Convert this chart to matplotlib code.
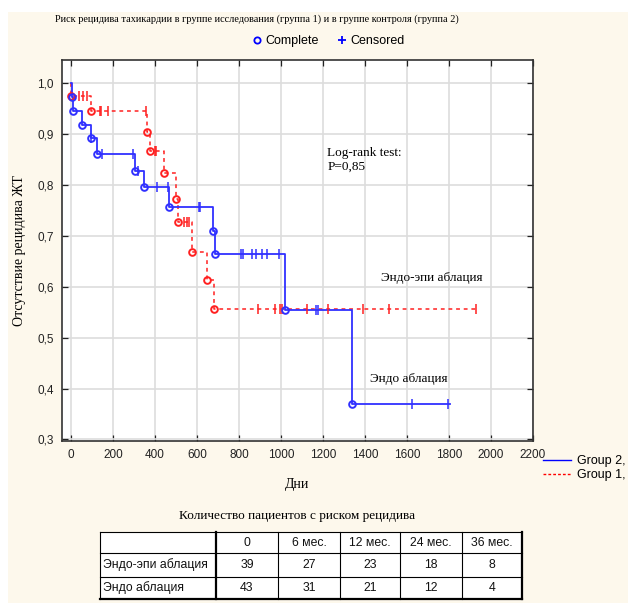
import numpy as np
import matplotlib
matplotlib.use("Agg")
from matplotlib import pyplot as plt
from matplotlib.lines import Line2D
from matplotlib.patches import Rectangle

SERIF = "Liberation Serif"
SANS = "Liberation Sans"

# group 2 (endo ablation): event times / survival after event, censored times
endo_t = [4, 8, 51, 95, 125, 305, 347, 465, 678, 686, 1019, 1337]
endo_s = [0.973, 0.945, 0.917, 0.891, 0.860, 0.828, 0.795, 0.756, 0.709, 0.665, 0.555, 0.370]
endo_cens = [97, 149, 293, 321, 408, 463, 608, 613, 810, 820, 860, 881, 908, 935,
             992, 1167, 1176, 1622, 1797]
endo_end = 1805

# group 1 (endo-epi ablation)
epi_t = [2, 94, 363, 378, 441, 502, 510, 575, 646, 682]
epi_s = [0.974, 0.944, 0.903, 0.866, 0.824, 0.773, 0.726, 0.669, 0.614, 0.557]
epi_cens = [38, 59, 75, 138, 145, 178, 357, 400, 405, 539, 554, 563, 890, 970,
            993, 1003, 1125, 1225, 1390, 1515, 1930]
epi_end = 1932

# number at risk table
risk_cols = ["0", "6 мес.", "12 мес.", "24 мес.", "36 мес."]
risk_rows = ["Эндо-эпи аблация", "Эндо аблация"]
risk_epi = [39, 27, 23, 18, 8]
risk_endo = [43, 31, 21, 12, 4]

CREAM = "#fdf8ec"
BLUE = "#3030ff"
RED = "#ff2020"

fig = plt.figure(figsize=(6.28, 6.03), dpi=100)
fig.patch.set_facecolor("white")
# cream panel behind everything except the thin white strips top/left
fig.patches.append(Rectangle((8 / 628, 0), 1, 1 - 12 / 603, transform=fig.transFigure,
                             facecolor=CREAM, edgecolor="none", zorder=-10))

ax = fig.add_axes([62 / 628, 1 - 441 / 603, (533 - 62) / 628, (441 - 60) / 603])
ax.set_facecolor("white")


def km_curve(times, surv, cens, end, color, ls, lw):
    tt = np.array([0] + list(times) + [end], dtype=float)
    ss = np.array([1.0] + list(surv) + [surv[-1]])
    ax.step(tt, ss, where="post", color=color, ls=ls, lw=lw, zorder=3)
    ax.plot(times, surv, "o", ms=4.8, mfc="none", mec=color, mew=1.4, zorder=4)
    idx = np.searchsorted(tt[:-1], cens, side="right") - 1
    ax.plot(cens, ss[idx], "|", ms=7.5, color=color, mew=1.1, zorder=4)


km_curve(epi_t, epi_s, epi_cens, epi_end, RED, (0, (2.5, 2.5)), 1.1)
km_curve(endo_t, endo_s, endo_cens, endo_end, BLUE, "-", 1.3)

ax.set_xlim(-43, 2200)
ax.set_ylim(0.297, 1.045)
ax.set_xticks(np.arange(0, 2201, 200))
ax.set_yticks(np.arange(0.3, 1.01, 0.1))
ax.set_yticklabels(["{:.1f}".format(v).replace(".", ",") for v in np.arange(0.3, 1.01, 0.1)])
ax.grid(True, color="#dddddd", lw=1.2, zorder=0)
ax.set_axisbelow(True)
ax.tick_params(direction="in", top=True, right=True, length=4, width=0.9,
               labelsize=8.5, colors="#222222", pad=6)
for lab in ax.get_xticklabels() + ax.get_yticklabels():
    lab.set_fontfamily(SANS)
for sp in ax.spines.values():
    sp.set_color("#333333")
    sp.set_linewidth(1.2)

ax.set_xlabel("Дни", fontfamily=SERIF, fontsize=10, labelpad=12)
ax.set_ylabel("Отсутствие рецидива ЖТ", fontfamily=SERIF, fontsize=10, labelpad=8)

ax.text(1220, 0.875, "Log-rank test:\nP=0,85", fontfamily=SERIF, fontsize=9.5,
        va="top", linespacing=1.2)
ax.text(1475, 0.617, "Эндо-эпи аблация", fontfamily=SERIF, fontsize=9.5, va="center")
ax.text(1425, 0.418, "Эндо аблация", fontfamily=SERIF, fontsize=9.5, va="center")

fig.text(257 / 628, 1 - 19 / 603, "Риск рецидива тахикардии в группе исследования "
         "(группа 1) и в группе контроля (группа 2)", fontfamily=SERIF, fontsize=7.4,
         ha="center", va="center")

top_handles = [Line2D([], [], marker="o", ls="", color="blue", mfc="none", ms=4.5, mew=1.3),
               Line2D([], [], marker="+", ls="", color="blue", ms=6, mew=1.3)]
fig.legend(top_handles, ["Complete", "Censored"], ncol=2, frameon=False, loc="center",
           bbox_to_anchor=(327 / 628, 1 - 41 / 603), prop={"family": SANS, "size": 9},
           handletextpad=0.1, columnspacing=1.2, handlelength=1.2)

grp_handles = [Line2D([], [], color="blue", lw=1.0),
               Line2D([], [], color="red", lw=1.0, ls=(0, (2, 1.5)))]
fig.legend(grp_handles, ["Group 2,", "Group 1,"], frameon=False, loc="upper left",
           bbox_to_anchor=(543 / 628, 1 - 455 / 603), prop={"family": SANS, "size": 9},
           handlelength=2.2, handletextpad=0.5, labelspacing=0.15, borderaxespad=0,
           borderpad=0)

fig.text(297 / 628, 1 - 516 / 603, "Количество пациентов с риском рецидива",
         fontfamily=SERIF, fontsize=9.5, ha="center", va="center")

# number-at-risk table, drawn in pixel coordinates
tax = fig.add_axes([0, 0, 1, 1], facecolor="none")
tax.set_xlim(0, 628)
tax.set_ylim(603, 0)
tax.axis("off")
col_x = [100, 216, 278, 340, 400, 462, 522]
row_y = [532, 553, 577, 599]
tax.add_patch(Rectangle((col_x[0], row_y[0]), col_x[-1] - col_x[0], row_y[-1] - row_y[0],
                        facecolor="white", edgecolor="none"))
for x in col_x:
    lw = 1.6 if x in (col_x[1], col_x[-1]) else 0.8
    tax.plot([x, x], [row_y[0], row_y[-1]], color="black", lw=lw)
for y in row_y:
    lw = 1.6 if y == row_y[-1] else 0.8
    tax.plot([col_x[0], col_x[-1]], [y, y], color="black", lw=lw)

tfont = dict(fontfamily=SANS, fontsize=8.8, va="center", color="#111111")
for j, c in enumerate(risk_cols):
    tax.text((col_x[j + 1] + col_x[j + 2]) / 2, (row_y[0] + row_y[1]) / 2, c, ha="center", **tfont)
for i, (name, vals) in enumerate(zip(risk_rows, [risk_epi, risk_endo])):
    yc = (row_y[i + 1] + row_y[i + 2]) / 2
    tax.text(col_x[0] + 3, yc, name, ha="left", **tfont)
    for j, v in enumerate(vals):
        tax.text((col_x[j + 1] + col_x[j + 2]) / 2, yc, str(v), ha="center", **tfont)

plt.savefig("out.png", dpi=100, facecolor=fig.get_facecolor())
